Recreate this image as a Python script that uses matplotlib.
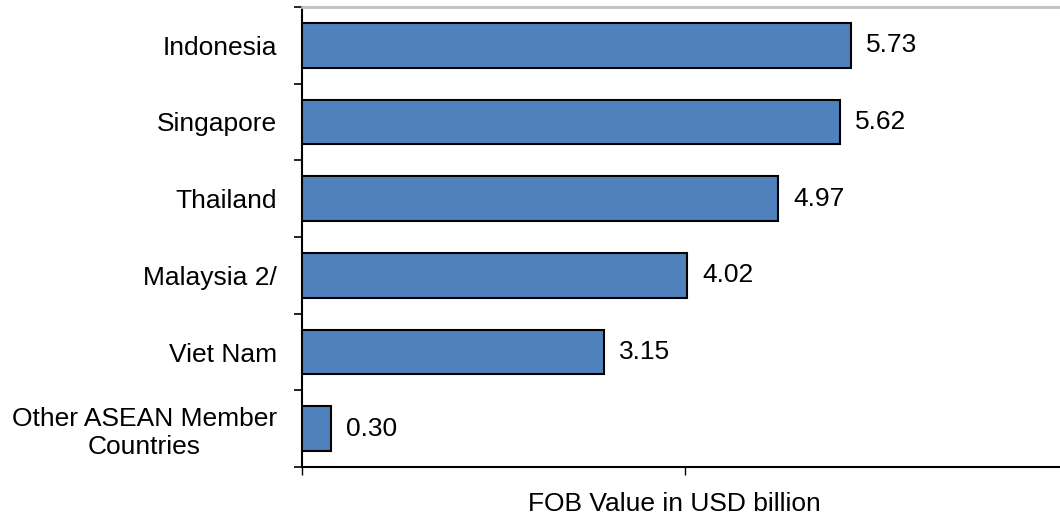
import matplotlib
matplotlib.use("Agg")
import matplotlib.pyplot as plt
import numpy as np

categories = ["Indonesia", "Singapore", "Thailand", "Malaysia 2/", "Viet Nam",
              "Other ASEAN Member\nCountries"]
values = [5.73, 5.62, 4.97, 4.02, 3.15, 0.30]
value_labels = ["5.73", "5.62", "4.97", "4.02", "3.15", "0.30"]

plt.rcParams['font.family'] = ['Liberation Sans', 'DejaVu Sans']

W, H = 1060, 515
fig = plt.figure(figsize=(W / 100, H / 100), dpi=100)
left, right, top, bottom = 302, 1068, 7, 467
ax = fig.add_axes([left / W, (H - bottom) / H, (right - left) / W, (bottom - top) / H])

FS = 19
y = np.arange(len(categories))
ax.barh(y, values, height=0.58, color="#4F81BD", edgecolor="black", linewidth=1.5, zorder=3)
for yi, v, lab in zip(y, values, value_labels):
    ax.annotate(lab, (v, yi), xytext=(11, 0), textcoords="offset points",
                va="center", ha="left", fontsize=FS, color="black")

ax.set_xlim(0, 8)
ax.set_ylim(len(categories) - 0.5, -0.5)
ax.set_xticks([0, 4, 8])
ax.set_xticklabels([])
ax.set_yticks(y)
ax.set_yticklabels(categories, fontsize=FS, ha="right", multialignment="center")
ax.tick_params(axis="y", which="major", length=0, pad=18)
ax.set_yticks(np.arange(-0.5, len(categories), 1.0), minor=True)
ax.tick_params(axis="y", which="minor", length=6, width=1.2, direction="out", color="black")
ax.tick_params(axis="x", which="major", length=6, width=1.0, direction="out", color="black")

ax.spines["left"].set_linewidth(1.5)
ax.spines["bottom"].set_linewidth(1.5)
ax.spines["top"].set_color("#BFBFBF")
ax.spines["top"].set_linewidth(2)
ax.spines["right"].set_color("#BFBFBF")

ax.set_xlabel("FOB Value in USD billion", fontsize=FS)
ax.xaxis.set_label_coords((674 - left) / (right - left), -0.055)

fig.savefig("out.png", dpi=100)
